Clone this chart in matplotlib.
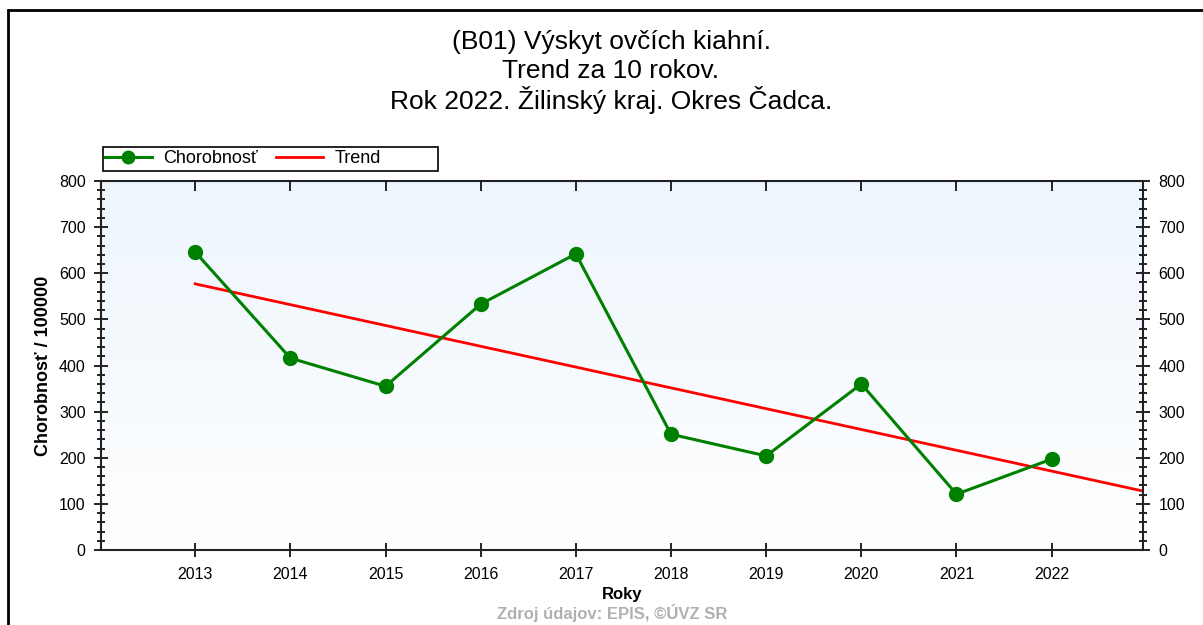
import numpy as np
import matplotlib
matplotlib.use("Agg")
import matplotlib.pyplot as plt
from matplotlib.ticker import MultipleLocator
from matplotlib.patches import Rectangle
from matplotlib.colors import LinearSegmentedColormap

plt.rcParams['font.family'] = ['Liberation Sans', 'DejaVu Sans']

years = [2013, 2014, 2015, 2016, 2017, 2018, 2019, 2020, 2021, 2022]
chorobnost = [646, 416, 355, 533, 642, 251, 204, 360, 121, 197]
trend_years = [2013, 2023]
trend_vals = [577, 126]

title_lines = ["(B01) Výskyt ovčích kiahní.",
               "Trend za 10 rokov.",
               "Rok 2022. Žilinský kraj. Okres Čadca."]

W, H = 1203, 625
fig = plt.figure(figsize=(W / 100, H / 100), dpi=100)
ax = fig.add_axes([101 / W, 1 - 550 / H, (1143 - 101) / W, (550 - 181) / H])

# gradient background
grad = np.linspace(0, 1, 256).reshape(-1, 1)
cmap = LinearSegmentedColormap.from_list("bg", ["#ffffff", "#edf5fd"])
ax.imshow(grad, aspect="auto", cmap=cmap, origin="lower",
          extent=[0, 1, 0, 1], transform=ax.transAxes, zorder=0)

ax.plot(years, chorobnost, color="#008000", lw=2.2, marker="o", ms=10,
        label="Chorobnosť", zorder=3)
ax.plot(trend_years, trend_vals, color="#ff0000", lw=2, label="Trend", zorder=2)

ax.set_xlim(2012.01, 2022.96)
ax.set_ylim(0, 800)
ax.set_xticks(years)
ax.set_xticklabels([str(y) for y in years])
ax.yaxis.set_major_locator(MultipleLocator(100))
ax.yaxis.set_minor_locator(MultipleLocator(20))

ax.tick_params(axis="both", which="major", direction="inout", length=10, width=1.2,
               labelsize=11.5, colors="black")
ax.tick_params(axis="y", which="minor", direction="inout", length=6, width=1.2)
ax.tick_params(axis="y", which="both", left=True, right=True, labelleft=True, labelright=True, pad=6)
ax.tick_params(axis="x", which="major", top=False, bottom=True, pad=7)

# top ticks pointing inward only
top = ax.twiny()
top.set_xlim(ax.get_xlim())
top.set_xticks(years)
top.tick_params(axis="x", direction="in", length=7, width=1.2, labeltop=False,
                top=True, bottom=False)
for s in top.spines.values():
    s.set_visible(False)

for s in ax.spines.values():
    s.set_linewidth(1.5)
    s.set_color("#222222")

ax.set_ylabel("Chorobnosť / 100000", fontsize=13, fontweight="bold", labelpad=5)
ax.set_xlabel("Roky", fontsize=12, fontweight="bold", labelpad=4)

for i, line in enumerate(title_lines):
    fig.text(611 / W, 1 - (41.5 + 29.5 * i) / H, line, ha="center", va="center", fontsize=19)

# legend box drawn separately so its width matches
fig.patches.append(Rectangle((103 / W, 1 - 171 / H), (438 - 103) / W, 24 / H,
                             transform=fig.transFigure, fill=False, edgecolor="black", lw=1.2))
leg = ax.legend(loc="center left", bbox_to_anchor=(0.0, (550 - 159) / (550 - 181)), ncol=2,
                frameon=False, fontsize=13, handlelength=2.6, columnspacing=1.0,
                borderpad=0.0, handletextpad=0.65, markerscale=0.9, borderaxespad=0.2)

fig.text(612 / W, 0.004, "Zdroj údajov: EPIS, ©ÚVZ SR", ha="center", va="bottom",
         fontsize=12, fontweight="bold", color="#b0b0b0")

fig.patches.append(Rectangle((0.0066, -0.1), 1.2, 1.084, transform=fig.transFigure,
                             fill=False, edgecolor="black", lw=2))

fig.savefig("out.png", dpi=100)
